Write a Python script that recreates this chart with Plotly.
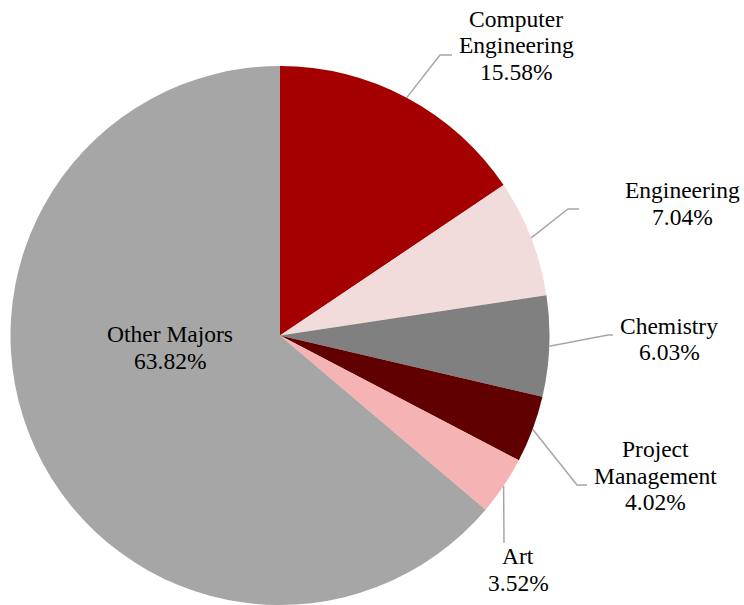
import math
import plotly.graph_objects as go

# ---- data ----
labels = ["Computer Engineering", "Engineering", "Chemistry",
          "Project Management", "Art", "Other Majors"]
values = [15.58, 7.04, 6.03, 4.02, 3.52, 63.82]
colors = ["#A50000", "#F2DCDB", "#808080", "#600000", "#F5B3B3", "#A6A6A6"]
label_lines = [["Computer", "Engineering"], ["Engineering"], ["Chemistry"],
               ["Project", "Management"], ["Art"], ["Other Majors"]]

# ---- layout (pixels) ----
W, H = 744, 605
CX, CY, R = 280, 335.5, 269.5
# label block: centre x, first line centre y
label_pos = [(516, 19), (682, 190), (669, 326), (655, 449), (518, 556), (170, 334)]
LINE_H = 26.5
# leader elbows and ends (None = no leader)
leaders = [[(440, 55), (452, 55)],
           [(568, 209), (579, 209)],
           [(608, 335), (613, 335)],
           [(577, 485), (587, 485)],
           [(504, 543)],
           None]
FONT = "'Liberation Serif', 'Times New Roman', Times, serif"


def px(x):
    return x / W


def py(y):
    return 1 - y / H


fig = go.Figure(go.Pie(
    labels=labels, values=values, sort=False, direction="clockwise",
    rotation=0, marker=dict(colors=colors, line=dict(width=0)),
    textinfo="none", hoverinfo="label+value", showlegend=False,
    domain=dict(x=[px(CX - R), px(CX + R)], y=[0, py(CY - R)]),
))

total = sum(values)
annotations = []
shapes = []
cum = 0.0
for i, v in enumerate(values):
    mid = (cum + v / 2) / total * 2 * math.pi
    cum += v
    pct = f"{v:.2f}%"
    lines = label_lines[i] + [pct]
    lx, ly = label_pos[i]
    for k, t in enumerate(lines):
        annotations.append(dict(
            x=px(lx), y=py(ly + k * LINE_H), xref="paper", yref="paper",
            text=t, showarrow=False, xanchor="center", yanchor="middle",
            font=dict(family=FONT, size=23.5, color="#000000")))
    if leaders[i]:
        sx = CX + R * math.sin(mid)
        sy = CY - R * math.cos(mid)
        pts = [(sx, sy)] + leaders[i]
        path = "M " + " L ".join(f"{px(a):.5f},{py(b):.5f}" for a, b in pts)
        shapes.append(dict(type="path", xref="paper", yref="paper", path=path,
                           line=dict(color="#A6A6A6", width=1.5)))

fig.update_layout(
    width=W, height=H, margin=dict(l=0, r=0, t=0, b=0),
    paper_bgcolor="white", plot_bgcolor="white",
    font=dict(family=FONT),
    annotations=annotations, shapes=shapes,
)
fig.write_html("out.html", config={"displayModeBar": False},
               post_script="document.body.style.margin='0';")
